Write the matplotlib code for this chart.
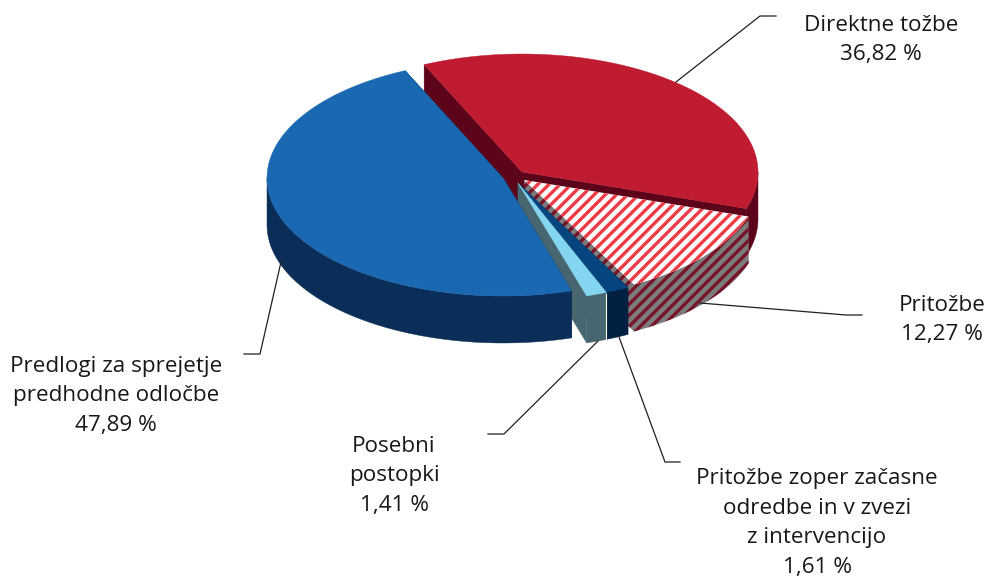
import numpy as np
import matplotlib
matplotlib.use("Agg")
import matplotlib.pyplot as plt
from matplotlib.patches import Polygon

categories = ["Direktne tožbe", "Pritožbe", "Pritožbe zoper začasne\nodredbe in v zvezi\nz intervencijo",
              "Posebni\npostopki", "Predlogi za sprejetje\npredhodne odločbe"]
values = [36.82, 12.27, 1.61, 1.41, 47.89]
value_labels = ["36,82 %", "12,27 %", "1,61 %", "1,41 %", "47,89 %"]

top_colors = ["#BF1B31", "#FFFFFF", "#04457F", "#84D5EF", "#1A67B2"]
wall_colors = ["#5C0419", "#7C7C7C", "#00203F", "#48666F", "#0A2E58"]

# pie centre of each slice in pixels, differs because slices are pulled out
centres = [(522, 172), (524, 180), (518, 183), (518, 183), (503, 178)]
label_pos = [(881, 40), (942, 320), (817, 523), (394, 476), (116, 396)]
leaders = [[(676, 82), (760, 16), (776, 16)],
           [(700, 303), (846, 315), (862, 315)],
           [(619, 337), (665, 462), (680, 462)],
           [(598, 341), (504, 434), (488, 434)],
           [(281, 262), (260, 354), (244, 354)]]

A, B = 236, 118
H = 47
START = -24.5

plt.rcParams["font.family"] = ["Open Sans", "DejaVu Sans"]
plt.rcParams["hatch.linewidth"] = 2.4

fig = plt.figure(figsize=(9.88, 5.8), dpi=100)
ax = fig.add_axes([0, 0, 1, 1])
ax.set_xlim(0, 988)
ax.set_ylim(580, 0)
ax.axis("off")


def rim(c, t):
    t = np.radians(t)
    return np.column_stack([c[0] + A * np.sin(t), c[1] - B * np.cos(t)])


ends = START + np.cumsum(values) * 3.6
starts = np.concatenate([[START], ends[:-1]])

for i in range(len(values)):
    c = centres[i]
    t0, t1 = starts[i], ends[i]
    kw = {"facecolor": wall_colors[i], "edgecolor": wall_colors[i], "linewidth": 0.3}
    if i == 1:
        kw = {"facecolor": "#7C7C7C", "edgecolor": "#781428", "linewidth": 0, "hatch": "///"}

    # flat cut faces
    for t in (t0, t1):
        p = rim(c, [t])[0]
        ax.add_patch(Polygon([c, p, (p[0], p[1] + H), (c[0], c[1] + H)], **kw))

    # curved outer wall, only the front half shows
    lo, hi = max(t0, 90), min(t1, 270)
    if hi > lo:
        arc = rim(c, np.linspace(lo, hi, 80))
        low = arc[::-1] + [0, H]
        ax.add_patch(Polygon(np.vstack([arc, low]), **kw))

    # top
    arc = rim(c, np.linspace(t0, t1, 160))
    pts = np.vstack([[c], arc])
    if i == 1:
        ax.add_patch(Polygon(pts, facecolor="#FFFFFF", edgecolor="#EE3A45", linewidth=0, hatch="///"))
    else:
        ax.add_patch(Polygon(pts, facecolor=top_colors[i], edgecolor=top_colors[i], linewidth=0.3))

    # thin white gap between the two small walls
    if i == 3:
        p = rim(c, [t0])[0]
        ax.plot([p[0], p[0]], [p[1] + 2, p[1] + H], color="white", linewidth=0.8)

for line in leaders:
    xs, ys = zip(*line)
    ax.plot(xs, ys, color="#231F20", linewidth=0.9, zorder=1)

for i in range(len(categories)):
    ax.text(label_pos[i][0], label_pos[i][1], categories[i] + "\n" + value_labels[i],
            ha="center", va="center", fontsize=16.2, color="#1A1718", linespacing=1.55)

fig.savefig("out.png", dpi=100)
